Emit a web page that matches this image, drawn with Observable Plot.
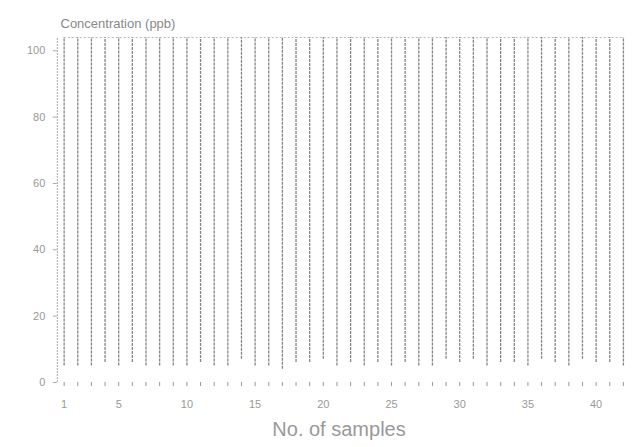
<!DOCTYPE html>
<html><head><meta charset="utf-8">
<script src="https://cdn.jsdelivr.net/npm/d3@7"></script>
<script src="https://cdn.jsdelivr.net/npm/@observablehq/plot@0.6"></script>
<style>body{margin:0;background:#fff;}svg{font-family:"Liberation Sans",Arial,sans-serif;}</style>
</head><body><div id="chart"></div>
<script>
const samples = [1,2,3,4,5,6,7,8,9,10,11,12,13,14,15,16,17,18,19,20,21,22,23,24,25,26,27,28,29,30,31,32,33,34,35,36,37,38,39,40,41,42];
const lowValues = [5,5,5,6,5,6,5,5,5,5,6,5,5,7,5,5,4,6,6,7,5,6,5,6,5,6,5,5,7,6,7,5,6,6,5,7,6,5,7,6,6,5];
const highValues = [104,104,104,104,104,104,104,104,104,104,104,104,104,104,104,104,104,104,104,104,104,104,104,104,104,104,104,104,104,104,104,104,104,104,104,104,104,104,104,104,104,104];
const xTickLabels = [1,5,10,15,20,25,30,35,40];
const yTicks = [0,20,40,60,80,100];
const data = samples.map((s,i)=>({s, lo: lowValues[i], hi: highValues[i]}));

const plot = Plot.plot({
  width: 639, height: 447,
  marginLeft: 50, marginRight: 12, marginTop: 37, marginBottom: 65,
  x: {domain: [0, 42.3]},
  y: {domain: [0, 104]},
  style: {color: "#999", fontSize: "11px"},
  marks: [
    Plot.ruleX(data, {x: "s", y1: "lo", y2: "hi", stroke: "#666", strokeWidth: 1.3, strokeDasharray: "3,1", strokeOpacity: 0.8}),
    Plot.ruleY([104], {x1: 1, x2: 42, stroke: "#999", strokeDasharray: "2,2", strokeOpacity: 0.7}),
    Plot.ruleX([0.5], {y1: 0, y2: 104, stroke: "#aaa", strokeDasharray: "2,1"}),
    Plot.axisY({ticks: yTicks, tickSize: 4, tickPadding: 8, label: null, anchor: "left", x: 0.5, fill: "#999", stroke: "#aaa"}),
    Plot.axisX({ticks: samples, tickSize: 4, tickPadding: 14, label: null,
      tickFormat: d => xTickLabels.includes(d) ? String(d) : "", fill: "#999", stroke: "#999"}),
    Plot.text(["Concentration (ppb)"], {frameAnchor: "top-left", dx: 10, dy: -19, fontSize: 13, fill: "#888", textAnchor: "start", style: "letter-spacing:0.6px"}),
    Plot.text(["No. of samples"], {frameAnchor: "bottom", dy: 53, fontSize: 20, fill: "#999", style: "letter-spacing:1.5px"})
  ]
});
document.getElementById("chart").append(plot);
</script></body></html>
